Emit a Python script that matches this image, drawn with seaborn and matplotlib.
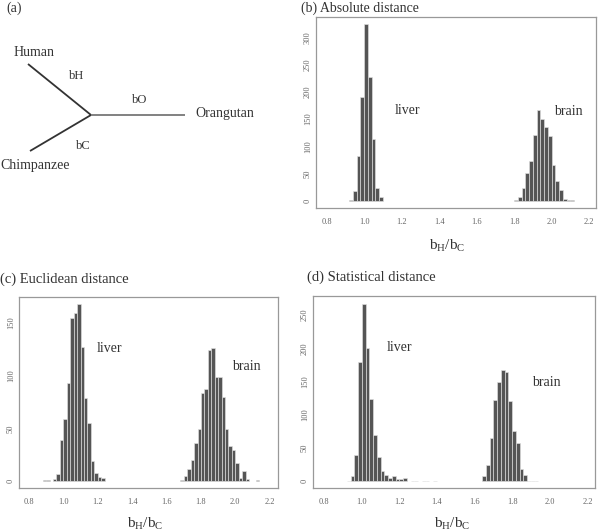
import numpy as np
import matplotlib
matplotlib.use('Agg')
import matplotlib.pyplot as plt
import seaborn as sns
import pandas as pd

sns.set_style('white')
plt.rcParams['font.family'] = ['Liberation Serif', 'DejaVu Serif']
plt.rcParams['mathtext.fontset'] = 'custom'
plt.rcParams['mathtext.rm'] = 'Liberation Serif'
plt.rcParams['mathtext.it'] = 'Liberation Serif'

# bin centres (step 0.02) and counts
abs_liver_x = np.round(np.arange(0.93, 1.10, 0.02), 2)
abs_liver_n = [1, 18, 82, 190, 324, 227, 113, 24, 7]
abs_brain_x = np.round(np.arange(1.81, 2.12, 0.02), 2)
abs_brain_n = [1, 7, 24, 51, 74, 120, 166, 151, 135, 119, 66, 37, 20, 3, 2, 1]

euc_liver_x = np.round(np.concatenate([[0.89, 0.91], np.arange(0.95, 1.24, 0.02)]), 2)
euc_liver_n = [1, 1, 2, 7, 39, 59, 93, 155, 159, 168, 127, 79, 55, 19, 8, 4, 3]
euc_brain_x = np.round(np.concatenate([np.arange(1.69, 2.08, 0.02), [2.13]]), 2)
euc_brain_n = [1, 5, 12, 20, 36, 50, 84, 87, 124, 126, 99, 99, 80, 50, 33, 30, 17, 3, 10, 2, 1]

sta_liver_x = np.round(np.concatenate([np.arange(0.93, 1.24, 0.02), [1.27, 1.29, 1.33, 1.35, 1.39]]), 2)
sta_liver_n = [1, 8, 40, 180, 266, 200, 123, 70, 37, 16, 10, 5, 8, 4, 4, 5, 1, 1, 1, 1, 1]
sta_brain_x = np.round(np.arange(1.65, 1.94, 0.02), 2)
sta_brain_n = [8, 24, 65, 122, 149, 167, 164, 121, 76, 57, 18, 10, 1, 1, 1]

x_ticks = [0.8, 1.0, 1.2, 1.4, 1.6, 1.8, 2.0, 2.2]
x_tick_labels = ['0.8', '1.0', '1.2', '1.4', '1.6', '1.8', '2.0', '2.2']

# tree diagram (panel a), pixel coordinates
tree_center = (91, 115)
tree_tips = {'Human': (28, 64), 'Chimpanzee': (30, 151), 'Orangutan': (185, 115)}

W, H = 600, 531
fig = plt.figure(figsize=(6, 5.31), dpi=100)


def fx(px):
    return px / W


def fy(py):
    return 1 - py / H


def axes_px(left, top, right, bottom):
    return fig.add_axes([fx(left), fy(bottom), (right - left) / W, (bottom - top) / H])


# ---- panel (a)
ax_a = axes_px(0, 0, 300, 200)
ax_a.set_xlim(0, 300)
ax_a.set_ylim(200, 0)
ax_a.axis('off')
cx, cy = tree_center
for name, (tx, ty) in tree_tips.items():
    col = '#777777' if name == 'Orangutan' else '#333333'
    ax_a.plot([cx, tx], [cy, ty], color=col, lw=1.3, solid_capstyle='butt')
ax_a.text(34, 52, 'Human', ha='center', va='center', fontsize=10, color='#333333')
ax_a.text(35, 166, 'Chimpanzee', ha='center', va='center', fontsize=10, color='#333333')
ax_a.text(225, 114, 'Orangutan', ha='center', va='center', fontsize=10, color='#333333')
ax_a.text(77, 76, 'bH', ha='center', va='center', fontsize=9, color='#333333')
ax_a.text(140, 100, 'bO', ha='center', va='center', fontsize=9, color='#333333')
ax_a.text(83, 146, 'bC', ha='center', va='center', fontsize=9, color='#333333')
fig.text(fx(6), fy(8), '(a)', ha='left', va='center', fontsize=10, color='#333333')


def hist_panel(ax, parts, xlim, ylim, yticks, texts):
    rows = []
    for name, xs, ns in parts:
        for x, n in zip(xs, ns):
            rows.append({'x': x, 'n': n, 'tissue': name})
    df = pd.DataFrame(rows)
    edges = np.round(np.arange(0.80, 2.2001, 0.02), 2).tolist()
    sns.histplot(data=df, x='x', weights='n', bins=edges, ax=ax,
                 color='#555555', edgecolor='#e0e0e0', linewidth=0.45, alpha=1)
    # empty bins are not drawn
    for p in ax.patches:
        if p.get_height() == 0:
            p.set_visible(False)
    ax.set_xlim(*xlim)
    ax.set_ylim(*ylim)
    ax.set_xticks(x_ticks)
    ax.set_xticklabels(x_tick_labels)
    ax.set_yticks(yticks)
    ax.set_yticklabels([str(v) for v in yticks], rotation=90, va='center')
    ax.set_xlabel('')
    ax.set_ylabel('')
    ax.tick_params(axis='both', which='both', direction='out', length=3, width=0.7,
                   colors='#888888', labelsize=6, labelcolor='#666666')
    ax.tick_params(axis='x', pad=4)
    ax.tick_params(axis='y', pad=0.5, length=2.5)
    for sp in ax.spines.values():
        sp.set_color('#999999')
        sp.set_linewidth(0.9)
        sp.set_visible(True)
    for label, (tx, ty) in texts.items():
        ax.text(tx, ty, label, ha='center', va='center', fontsize=10, color='#333333')


# ---- panel (b)
ax_b = axes_px(316, 17, 596, 208)
hist_panel(ax_b, [('liver', abs_liver_x, abs_liver_n), ('brain', abs_brain_x, abs_brain_n)],
           (0.743, 2.236), (-13, 337), [0, 50, 100, 150, 200, 250, 300],
           {'liver': (1.23, 165), 'brain': (2.09, 163)})
fig.text(fx(301), fy(8), '(b) Absolute distance', ha='left', va='center', fontsize=10, color='#333333')
fig.text(fx(447), fy(246), r'$\mathregular{b_H/b_C}$', ha='center', va='center', fontsize=11, color='#333333')

# ---- panel (c)
ax_c = axes_px(19, 297, 278, 488)
hist_panel(ax_c, [('liver', euc_liver_x, euc_liver_n), ('brain', euc_brain_x, euc_brain_n)],
           (0.742, 2.248), (-6.3, 174.5), [0, 50, 100, 150],
           {'liver': (1.27, 126), 'brain': (2.065, 109)})
fig.text(fx(0), fy(279), '(c) Euclidean distance', ha='left', va='center', fontsize=10.5, color='#333333')
fig.text(fx(145), fy(524), r'$\mathregular{b_H/b_C}$', ha='center', va='center', fontsize=11, color='#333333')

# ---- panel (d)
ax_d = axes_px(313, 296, 595, 488)
hist_panel(ax_d, [('liver', sta_liver_x, sta_liver_n), ('brain', sta_brain_x, sta_brain_n)],
           (0.74, 2.241), (-10, 278.5), [0, 50, 100, 150, 200, 250],
           {'liver': (1.2, 201), 'brain': (1.98, 148)})
fig.text(fx(307), fy(277), '(d) Statistical distance', ha='left', va='center', fontsize=10.5, color='#333333')
fig.text(fx(452), fy(524), r'$\mathregular{b_H/b_C}$', ha='center', va='center', fontsize=11, color='#333333')

fig.savefig('out.png', dpi=100)
